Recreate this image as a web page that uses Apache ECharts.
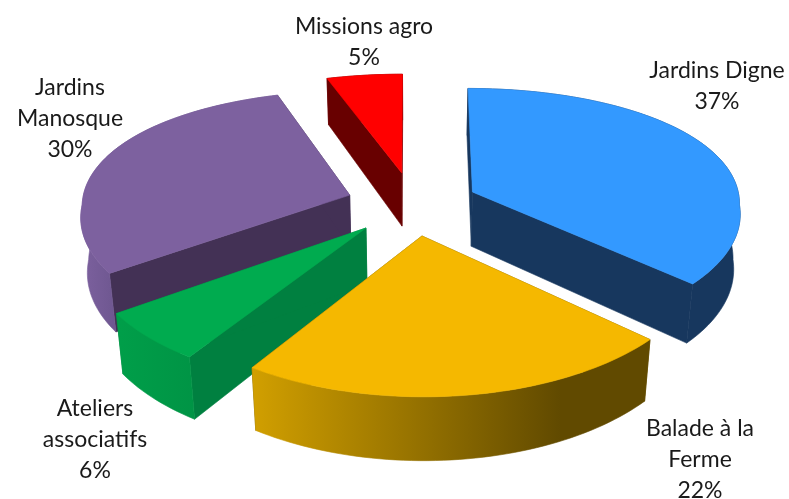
<!DOCTYPE html>
<html><head><meta charset="utf-8">
<style>html,body{margin:0;padding:0;background:#fff}#c{width:789px;height:499px}</style>
<script src="https://cdn.jsdelivr.net/npm/echarts@6/dist/echarts.min.js"></script>
</head><body><div id="c"></div>
<script>
const categories = ['Jardins Digne', 'Balade à la\nFerme', 'Ateliers\nassociatifs', 'Jardins\nManosque', 'Missions agro'];
const shares = [37, 22, 6, 30, 5];

// layout / styling (not data)
const view = {cx:412, cy:205, A:268, B:124, k:0.16, kx:0.15, kxBack:0.08, D:55, Dk:0.13, m:0.02};
const explodeX = [0.2275, 0.036, -0.167, -0.234, -0.039];
const explodeY = [-0.1065, 0.24, 0.18, -0.081, -0.269];
const labelX = [717, 700, 95, 70, 364];
const labelY = [86, 460, 440, 119, 42];
const topFill = ['#3399FF', '#F5B800', '#00AB4F', '#7D619F', '#FF0000'];
const radialFill = ['#17375E', '#6B5200', '#008040', '#433155', '#680000'];
const wallStops = [
  ['#17375E', '#17375E'],
  ['#D2A000', '#614A00'],
  ['#009E49', '#009445'],
  ['#7D619F', '#6A548C'],
  ['#680000', '#680000']
];
const wallRange = [[460,740],[250,560],[120,195],[80,125],[320,405]];

const total = shares.reduce((a,b)=>a+b,0);
function project(X, Y, z){
  const p = 1/(1 - (Y<0 ? view.kxBack : view.kx)*Y + view.m*z);
  return [view.cx + view.A*X*p, view.cy + view.B*Y/(1 - view.k*Y) + view.D*z*(1 + view.Dk*Y)];
}
let acc = 0;
const slices = shares.map((v,i)=>{
  const a0 = acc/total*2*Math.PI; acc += v; const a1 = acc/total*2*Math.PI;
  return {i, a0, a1, depth: -Math.cos((a0+a1)/2)};
});
const seriesData = slices.slice().sort((a,b)=>a.depth-b.depth).map(s=>s.i);

function renderSlice(params, api){
  const s = slices[api.value(0)], i = s.i;
  const ox = explodeX[i], oy = explodeY[i];
  const steps = Math.max(6, Math.round((s.a1-s.a0)*40));
  const arc = z => { const r=[]; for(let n=0;n<=steps;n++){
      const a = s.a0+(s.a1-s.a0)*n/steps;
      r.push(project(ox+Math.sin(a), oy-Math.cos(a), z));
    } return r; };
  const topArc = arc(0), botArc = arc(1);
  const apexT = project(ox,oy,0), apexB = project(ox,oy,1);
  const poly = (points, fill) => ({type:'polygon', silent:true, shape:{points},
    style:{fill, stroke:fill, lineWidth:0.6, lineJoin:'round'}});
  const [x0,x1] = wallRange[i];
  const grad = new echarts.graphic.LinearGradient(x0,0,x1,0,[
    {offset:0,color:wallStops[i][0]},{offset:1,color:wallStops[i][1]}],true);
  return {type:'group', children:[
    poly([apexT, topArc[0], botArc[0], apexB], radialFill[i]),
    poly([apexT, topArc[steps], botArc[steps], apexB], radialFill[i]),
    poly(topArc.concat(botArc.slice().reverse()), grad),
    poly([apexT].concat(topArc), topFill[i]),
    {type:'text', silent:true, style:{
      x:labelX[i], y:labelY[i], text:categories[i]+'\n'+shares[i]+'%',
      align:'center', verticalAlign:'middle',
      font:'23px Lato', lineHeight:31, fill:'#1a1a1a'}}
  ]};
}
const chart = echarts.init(document.getElementById('c'), null, {renderer:'canvas'});
chart.setOption({
  animation:false,
  backgroundColor:'#ffffff',
  series:[{type:'custom', coordinateSystem:'none', renderItem:renderSlice,
    data:seriesData.map(i=>[i])}]
});
</script></body></html>
